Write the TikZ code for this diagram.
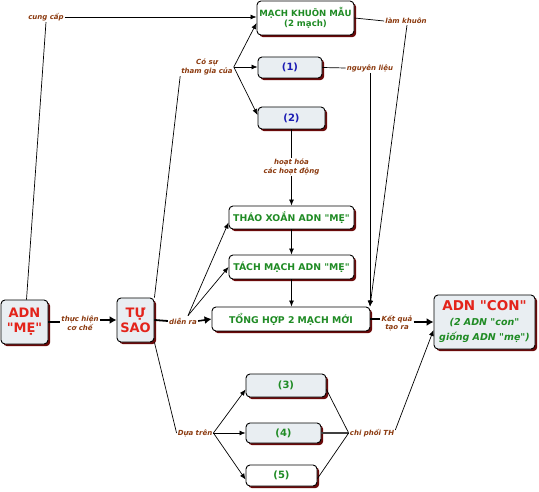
\documentclass[tikz,border=0pt]{standalone}
\usepackage{fontspec}
\setmainfont{DejaVu Sans}[Ligatures=TeXOff]
\usetikzlibrary{arrows.meta,shadows,calc}
\definecolor{cred}{HTML}{E3241B}
\definecolor{cgreen}{HTML}{1F8B24}
\definecolor{cblue}{HTML}{1C1CB4}
\definecolor{cbrown}{HTML}{8B3A0F}
\definecolor{cfill}{HTML}{E9EEF2}
\definecolor{cshadow}{HTML}{6A0A0A}
\tikzset{
  box/.style={draw=black, line width=0.9pt, rounded corners=4pt, inner sep=0pt, align=center,
    font=\bfseries\fontsize{9.3}{10}\selectfont,
    drop shadow={shadow xshift=2.2pt, shadow yshift=-2.2pt, fill=cshadow, opacity=1}},
  wbox/.style={box, fill=white},
  gbox/.style={box, fill=cfill},
  numf/.style={font=\bfseries\fontsize{10}{12}\selectfont},
  bigf/.style={font=\bfseries\fontsize{13}{15}\selectfont},
  lbl/.style={inner sep=1pt, align=center, text=cbrown, font=\bfseries\itshape\fontsize{7}{8.6}\selectfont},
  con/.style={line width=0.7pt, draw=black},
  arr/.style={con, -{Latex[length=6pt,width=5pt]}},
  barr/.style={line width=1.6pt, -{Latex[length=7pt,width=8pt]}},
}
\begin{document}
\begin{tikzpicture}[x=1pt,y=-1pt]
\useasboundingbox (0,0) rectangle (539,492);
% boxes
\node[wbox, minimum width=97pt, minimum height=34pt, text=cgreen, font=\bfseries\fontsize{8.6}{10.5}\selectfont] (mk) at (305.5,18) {MẠCH KHUÔN MẪU\\(2 mạch)};
\node[gbox, numf, minimum width=64pt, minimum height=21pt, text=cblue] (b1) at (290,67.5) {(1)};
\node[gbox, numf, minimum width=67pt, minimum height=22pt, text=cblue] (b2) at (291.5,118) {(2)};
\node[wbox, minimum width=125pt, minimum height=23pt, text=cgreen] (thao) at (291.5,217.5) {THÁO XOẮN ADN "MẸ"};
\node[wbox, minimum width=125pt, minimum height=24pt, text=cgreen] (tach) at (291.5,267) {TÁCH MẠCH ADN "MẸ"};
\node[wbox, minimum width=158pt, minimum height=24pt, text=cgreen] (tong) at (291,319) {TỔNG HỢP 2 MẠCH MỚI};
\node[gbox, minimum width=101pt, minimum height=54pt, text=cred, font=\bfseries\fontsize{13.5}{15.5}\selectfont] (con) at (484.5,322)
  {ADN "CON"\\[-1pt]\color{cgreen}\itshape\fontsize{9.5}{11}\selectfont (2 ADN "con"\\\color{cgreen}\itshape\fontsize{9.5}{11}\selectfont giống ADN "mẹ")};
\node[gbox, numf, minimum width=80pt, minimum height=23pt, text=cgreen] (b3) at (286,385.5) {(3)};
\node[gbox, numf, minimum width=75pt, minimum height=20pt, text=cgreen] (b4) at (283.5,433) {(4)};
\node[wbox, numf, minimum width=71pt, minimum height=21pt, text=cgreen] (b5) at (281.5,475.5) {(5)};
\node[gbox, bigf, minimum width=47pt, minimum height=44pt, text=cred] (me) at (24.5,322) {ADN\\"MẸ"};
\node[gbox, bigf, minimum width=37pt, minimum height=44pt, text=cred] (ts) at (135.5,320) {TỰ\\SAO};
% labels
\node[lbl] (cung) at (46,17) {cung cấp};
\node[lbl] (cosu) at (207,67) {Có sự\\tham gia của};
\node[lbl] (hoat) at (291.5,167) {hoạt hóa\\các hoạt động};
\node[lbl] (lamk) at (406,21) {làm khuôn};
\node[lbl] (nguyen) at (370,68) {nguyên liệu};
\node[lbl] (thuc) at (80,323) {thực hiện\\cơ chế};
\node[lbl] (dien) at (183,321) {diễn ra};
\node[lbl] (ketqua) at (397,323) {Kết quả\\tạo ra};
\node[lbl] (dua) at (195,433) {Dựa trên};
\node[lbl] (chiphoi) at (372,433) {chi phối TH};
% coordinates
\coordinate (meTop) at ($(me.north)+(2,0)$);
\coordinate (tongNE) at (nguyen.south |- tong.north);
\coordinate (dsplit) at ($(dien.north)+(5,-1)$);
% connectors
\draw[arr] (cung.east) -- (cung.east -| mk.west);
\draw[con] (cung.south) -- (meTop);
\draw[con] (ts.north east) -- (cosu.south west);
\draw[arr] (cosu.east) -- ($(mk.west)+(0,5)$);
\draw[arr] (cosu.east) -- (cosu.east -| b1.west);
\draw[arr] (cosu.east) -- ($(b2.west)+(0,-3)$);
\draw[con] (b1.east) -- (nguyen.west);
\draw[arr] (nguyen.south) -- (tongNE);
\draw[con] (mk.east) -- (lamk.west);
\draw[arr] ($(lamk.south)+(1,0)$) -- (tongNE);
\draw[con] (b2.south) -- (hoat.north);
\draw[arr] (hoat.south) -- (thao.north);
\draw[arr] (thao.south) -- (tach.north);
\draw[arr] (tach.south) -- (tach.south |- tong.north);
\draw[line width=1.3pt] (me.east) -- (me.east -| thuc.west);
\draw[barr] (thuc.east |- ts.west) -- (ts.west);
\draw[line width=1.8pt] (ts.east) -- (dien.west);
\draw[barr] (dien.east) -- (tong.west);
\draw[arr] (dsplit) -- ($(thao.west)+(0,5)$);
\draw[arr] (dsplit) -- (tach.west);
\draw[con] (ts.south east) -- (dua.west);
\draw[arr] (dua.east) -- ($(b3.west)+(0,4)$);
\draw[arr] (dua.east) -- (b4.west);
\draw[arr] (dua.east) -- ($(b5.west)+(0,4)$);
\draw[con] ($(b3.east)+(0,4)$) -- (chiphoi.west);
\draw[line width=1.2pt, draw=black!75] (b4.east) -- (chiphoi.west);
\draw[con] ($(b5.east)+(0,3)$) -- (chiphoi.west);
\draw[arr] ($(chiphoi.east)+(0,-3)$) -- ($(con.west)+(0,8)$);
\draw[line width=1.3pt] (tong.east) -- (tong.east -| ketqua.west);
\draw[barr] (ketqua.east |- con.west) -- (con.west);
\end{tikzpicture}
\end{document}
